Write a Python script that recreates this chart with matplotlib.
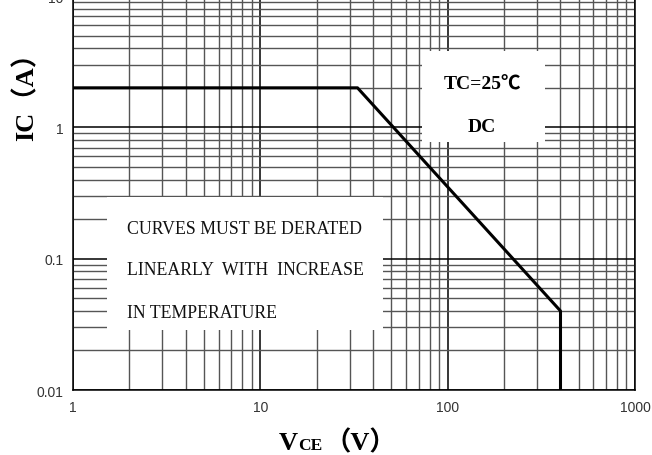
import numpy as np
import matplotlib.pyplot as plt
from matplotlib.patches import Rectangle
from matplotlib.ticker import LogLocator, FixedLocator, NullFormatter

# SOA curve (DC, Tc=25C)
vce = [1, 33, 400, 400]
ic = [2, 2, 0.04, 0.01]

xticks = [1, 10, 100, 1000]
xlabels = ['1', '10', '100', '1000']
yticks = [0.01, 0.1, 1, 10]
ylabels = ['0.01', '0.1', '1', '10']

note_lines = ['CURVES MUST BE DERATED',
              'LINEARLY  WITH  INCREASE',
              'IN TEMPERATURE']
cond_lines = ['TC=25℃', 'DC']

serif = ['Liberation Serif', 'Noto Sans CJK SC', 'DejaVu Sans']

fig = plt.figure(figsize=(6.52, 4.56), dpi=100)
ax = fig.add_axes([0.112, 0.1425, 0.862, 0.864])
ax.set_xscale('log')
ax.set_yscale('log')
ax.set_xlim(1, 1000)
ax.set_ylim(0.01, 10)

ax.plot(vce, ic, color='black', lw=2.2, zorder=3)

ax.xaxis.set_major_locator(FixedLocator(xticks))
ax.yaxis.set_major_locator(FixedLocator(yticks))
ax.xaxis.set_minor_locator(LogLocator(base=10, subs=range(2, 10)))
ax.yaxis.set_minor_locator(LogLocator(base=10, subs=range(2, 10)))
ax.xaxis.set_minor_formatter(NullFormatter())
ax.yaxis.set_minor_formatter(NullFormatter())
ax.set_xticklabels(xlabels, family='Liberation Sans')
ax.set_yticklabels(ylabels, family='Liberation Sans')

ax.grid(which='major', color='black', lw=1.1)
ax.grid(which='minor', color='#555555', lw=1.0)
ax.set_axisbelow(True)
ax.tick_params(which='both', length=0, labelsize=10, labelcolor='#333333', pad=7)
for s in ax.spines.values():
    s.set_color('black')
    s.set_linewidth(1.1)

# white boxes for the notes
ax.add_patch(Rectangle((0.0605, 0.152), 0.491, 0.338, transform=ax.transAxes,
                       facecolor='white', edgecolor='none', zorder=2))
ax.add_patch(Rectangle((0.621, 0.629), 0.219, 0.231, transform=ax.transAxes,
                       facecolor='white', edgecolor='none', zorder=2))

for t, yy in zip(note_lines, [0.411, 0.307, 0.198]):
    ax.text(0.096, yy, t, transform=ax.transAxes, ha='left', va='center',
            fontsize=12.8, family=serif, color='#111111', zorder=4)
for t, yy in zip(cond_lines, [0.777, 0.670]):
    ax.text(0.728, yy, t, transform=ax.transAxes, ha='center', va='center',
            fontsize=14, fontweight='bold', family=serif, color='black', zorder=4)

# axis labels
fig.text(26 / 652, 1 - 90 / 456, 'IC（A）', rotation=90, ha='center', va='center',
         fontsize=19, fontweight='bold', family=serif)
base = 1 - 450 / 456
fig.text(279 / 652, base, 'V', ha='left', va='baseline',
         fontsize=19, fontweight='bold', family=serif)
fig.text(298 / 652, base, 'CE', ha='left', va='baseline',
         fontsize=12.5, fontweight='bold', family=serif)
fig.text(324 / 652, base, '（V）', ha='left', va='baseline',
         fontsize=19, fontweight='bold', family=serif)

fig.savefig('out.png', dpi=100)
